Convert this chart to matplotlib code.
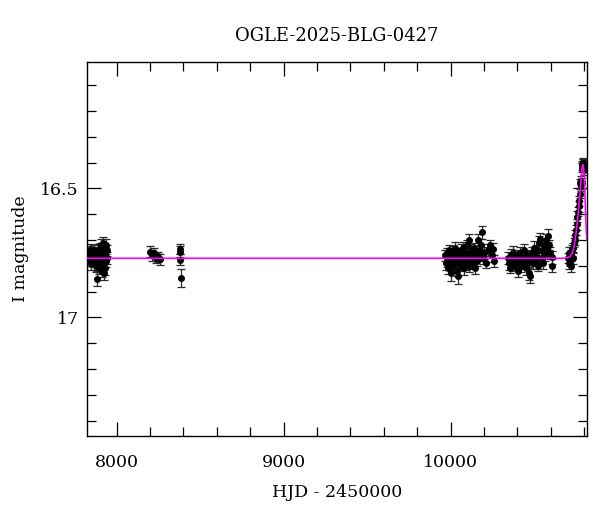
import matplotlib
matplotlib.use("Agg")
import matplotlib.pyplot as plt
from matplotlib.ticker import MultipleLocator, FormatStrFormatter
import numpy as np

title = "OGLE-2025-BLG-0427"
xlabel = "HJD - 2450000"
ylabel = "I magnitude"

# Season data (HJD-2450000, I mag, error)
s1_t = [7828, 7832, 7836, 7840, 7843, 7847, 7851, 7855,
        7858, 7862, 7866, 7870, 7874, 7877, 7880, 7883,
        7886, 7889, 7892, 7895, 7898, 7900, 7902, 7905,
        7908, 7910, 7913, 7915, 7918, 7920, 7923, 7925,
        7928, 7930, 7933, 7936, 7938, 7941, 7944]
s1_m = [16.76, 16.75, 16.78, 16.74, 16.77, 16.79, 16.76, 16.75,
        16.78, 16.77, 16.74, 16.79, 16.76, 16.80, 16.85, 16.77,
        16.74, 16.79, 16.76, 16.81, 16.73, 16.78, 16.75, 16.80,
        16.72, 16.77, 16.82, 16.74, 16.78, 16.71, 16.79, 16.83,
        16.75, 16.76, 16.81, 16.72, 16.78, 16.74, 16.77]
s1_e = [0.022, 0.025, 0.020, 0.024, 0.022, 0.026, 0.021, 0.023,
        0.024, 0.020, 0.022, 0.025, 0.021, 0.024, 0.030, 0.022,
        0.023, 0.021, 0.025, 0.022, 0.020, 0.024, 0.021, 0.026,
        0.022, 0.023, 0.025, 0.021, 0.024, 0.022, 0.020, 0.026,
        0.023, 0.021, 0.024, 0.022, 0.025, 0.021, 0.023]

s2_t = [8200, 8212, 8224, 8236, 8250, 8262, 8378, 8380, 8381, 8383]
s2_m = [16.745, 16.76, 16.75, 16.77, 16.765, 16.775, 16.735, 16.745, 16.776, 16.849]
s2_e = [0.020, 0.022, 0.020, 0.021, 0.020, 0.022, 0.020, 0.021, 0.022, 0.035]

s3_t = [9968, 9972, 9976, 9980, 9984, 9988, 9992, 9996,
        10000, 10004, 10008, 10012, 10016, 10020, 10024, 10028,
        10032, 10036, 10040, 10044, 10048, 10052, 10056, 10060,
        10064, 10068, 10072, 10076, 10080, 10084, 10088, 10092,
        10096, 10100, 10104, 10108, 10112, 10116, 10120, 10126,
        10132, 10138, 10144, 10150, 10156, 10162, 10168, 10174,
        10180, 10186, 10192, 10200, 10210, 10222, 10236, 10248,
        10256, 10262]
s3_m = [16.76, 16.79, 16.75, 16.78, 16.81, 16.77, 16.74, 16.79,
        16.76, 16.83, 16.78, 16.75, 16.80, 16.77, 16.73, 16.79,
        16.76, 16.82, 16.78, 16.84, 16.75, 16.79, 16.77, 16.74,
        16.80, 16.76, 16.78, 16.73, 16.81, 16.77, 16.75, 16.79,
        16.76, 16.72, 16.78, 16.70, 16.80, 16.76, 16.74, 16.79,
        16.77, 16.73, 16.81, 16.75, 16.78, 16.70, 16.76, 16.74,
        16.72, 16.67, 16.77, 16.75, 16.79, 16.74, 16.72, 16.76,
        16.735, 16.78]
s3_e = [0.022, 0.025, 0.020, 0.024, 0.022, 0.026, 0.021, 0.023,
        0.024, 0.028, 0.022, 0.025, 0.021, 0.024, 0.022, 0.022,
        0.023, 0.021, 0.025, 0.030, 0.020, 0.024, 0.021, 0.026,
        0.022, 0.023, 0.025, 0.021, 0.024, 0.022, 0.020, 0.026,
        0.023, 0.021, 0.024, 0.022, 0.025, 0.021, 0.023, 0.022,
        0.024, 0.020, 0.022, 0.025, 0.021, 0.024, 0.022, 0.022,
        0.023, 0.025, 0.025, 0.022, 0.020, 0.024, 0.021, 0.026,
        0.022, 0.023]

s4_t = [10344, 10350, 10356, 10362, 10368, 10374, 10380, 10386,
        10392, 10398, 10404, 10410, 10416, 10422, 10428, 10434,
        10440, 10446, 10452, 10458, 10464, 10470, 10476, 10482,
        10488, 10494, 10500, 10506, 10512, 10518, 10524, 10530,
        10536, 10542, 10548, 10554, 10560, 10566, 10572, 10578,
        10584, 10590, 10598, 10606, 10608]
s4_m = [16.77, 16.79, 16.81, 16.76, 16.78, 16.75, 16.80, 16.77,
        16.79, 16.76, 16.82, 16.78, 16.75, 16.80, 16.77, 16.79,
        16.74, 16.78, 16.81, 16.76, 16.79, 16.83, 16.84, 16.77,
        16.75, 16.79, 16.73, 16.78, 16.76, 16.74, 16.80, 16.71,
        16.696, 16.77, 16.74, 16.79, 16.72, 16.76, 16.70, 16.74,
        16.683, 16.72, 16.75, 16.767, 16.80]
s4_e = [0.022, 0.025, 0.020, 0.024, 0.022, 0.026, 0.021, 0.023,
        0.024, 0.020, 0.022, 0.025, 0.021, 0.024, 0.022, 0.022,
        0.023, 0.021, 0.025, 0.022, 0.020, 0.024, 0.028, 0.026,
        0.022, 0.023, 0.025, 0.021, 0.024, 0.022, 0.020, 0.026,
        0.023, 0.021, 0.024, 0.022, 0.025, 0.021, 0.023, 0.022,
        0.024, 0.020, 0.022, 0.025, 0.025]

s5_t = [10704, 10708, 10712, 10716, 10720, 10724, 10728, 10732,
        10736, 10740, 10744, 10748, 10752, 10756, 10760, 10764,
        10768, 10772, 10776, 10778, 10780, 10782, 10784, 10786,
        10788, 10790, 10792, 10794, 10796, 10798, 10800, 10802]
s5_m = [16.77, 16.79, 16.75, 16.78, 16.80, 16.76, 16.74, 16.77,
        16.73, 16.71, 16.70, 16.68, 16.66, 16.64, 16.61, 16.59,
        16.57, 16.55, 16.52, 16.48, 16.49, 16.47, 16.485, 16.48,
        16.42, 16.41, 16.40, 16.415, 16.405, 16.42, 16.41, 16.43]
s5_e = [0.020, 0.022, 0.021, 0.020, 0.023, 0.020, 0.021, 0.022,
        0.020, 0.019, 0.021, 0.020, 0.019, 0.020, 0.021, 0.019,
        0.020, 0.019, 0.018, 0.018, 0.019, 0.018, 0.018, 0.019,
        0.018, 0.017, 0.018, 0.017, 0.018, 0.017, 0.018, 0.017]

# Model curve
model_t = [7824, 10680, 10700, 10716, 10728, 10736, 10744, 10750, 10756,
           10762, 10767, 10771, 10776, 10780, 10784, 10788, 10792, 10796,
           10800, 10804, 10808, 10812, 10816]
model_m = [16.771, 16.771, 16.769, 16.764, 16.752, 16.735, 16.71, 16.68, 16.65,
           16.612, 16.58, 16.548, 16.51, 16.48, 16.445, 16.418, 16.408, 16.418,
           16.45, 16.51, 16.58, 16.65, 16.70]

t_all = s1_t + s2_t + s3_t + s4_t + s5_t
m_all = s1_m + s2_m + s3_m + s4_m + s5_m
e_all = s1_e + s2_e + s3_e + s4_e + s5_e

plt.rcParams['font.family'] = ['DejaVu Serif']

fig = plt.figure(figsize=(6, 5.12), dpi=100)
ax = fig.add_axes([0.1455, 0.1484, 0.978 - 0.1455, 0.879 - 0.1484])

ax.errorbar(t_all, m_all, yerr=e_all, fmt='o', color='black', ms=4,
            ecolor='#2a2a2a', elinewidth=0.9, capsize=2.8, capthick=0.9, zorder=2)
ax.plot(model_t, model_m, color='#ff00ff', lw=1.2, zorder=3)

ax.set_xlim(7824, 10816)
ax.set_ylim(17.46, 16.01)

ax.xaxis.set_major_locator(MultipleLocator(1000))
ax.xaxis.set_minor_locator(MultipleLocator(200))
ax.yaxis.set_major_locator(MultipleLocator(0.5))
ax.yaxis.set_minor_locator(MultipleLocator(0.1))
ax.yaxis.set_major_formatter(FormatStrFormatter('%g'))

ax.tick_params(which='both', direction='in', top=True, right=True, width=0.9)
ax.tick_params(which='major', length=10)
ax.tick_params(which='minor', length=6.5)
ax.tick_params(axis='x', which='major', pad=13, labelsize=12.5)
ax.tick_params(axis='y', which='major', pad=6, labelsize=12.5)
for s in ax.spines.values():
    s.set_linewidth(1.0)

ax.set_title(title, fontsize=13, pad=15)
ax.set_xlabel(xlabel, fontsize=12.5, labelpad=9)
ax.set_ylabel(ylabel, fontsize=12.5, labelpad=8)

fig.savefig("out.png", dpi=100)
